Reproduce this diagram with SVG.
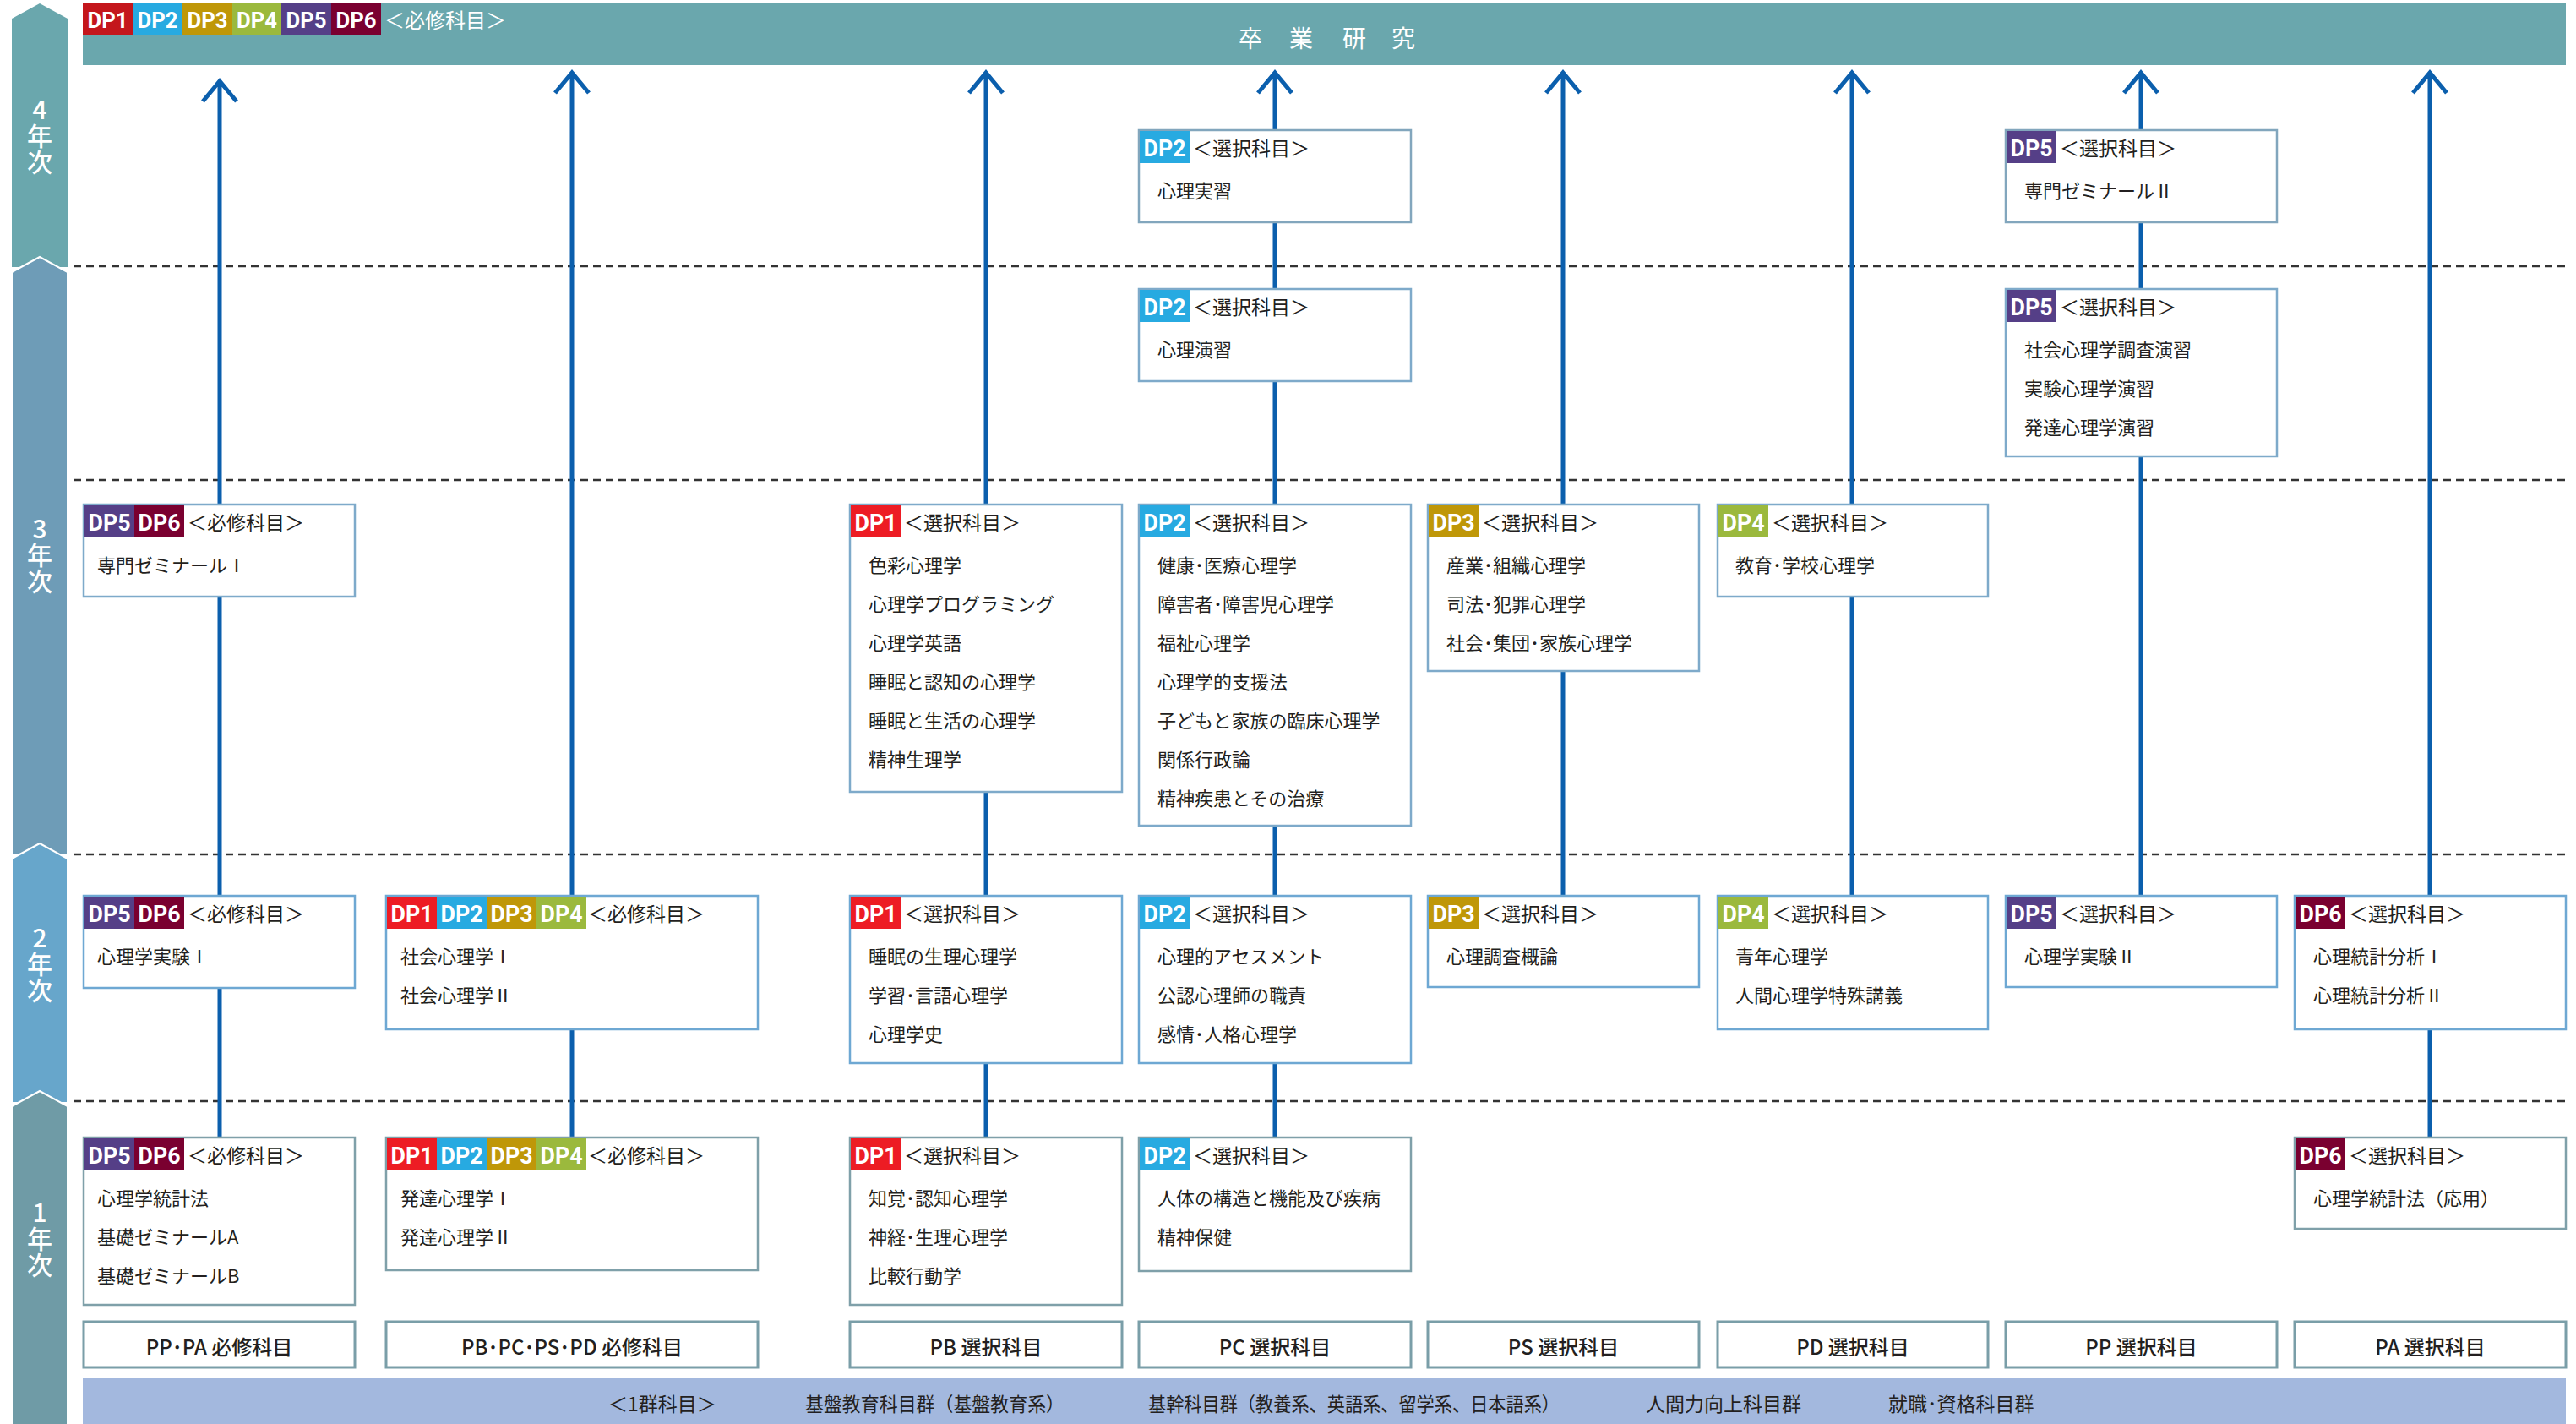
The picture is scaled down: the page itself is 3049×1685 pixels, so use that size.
<svg xmlns="http://www.w3.org/2000/svg" width="3049" height="1685" viewBox="0 0 3049 1685">
<style>
.box{fill:#fff;stroke-width:2.5}
.s4{stroke:#82a6bd}.s3{stroke:#7eaaca}.s2{stroke:#6ea8d3}.s1{stroke:#7fa0a9}
.dp{font-family:Roboto,'Liberation Sans',sans-serif;font-weight:700;font-size:28px;fill:#fff;text-anchor:middle}
.hd{font-family:'Noto Sans CJK JP',sans-serif;font-size:23px;fill:#231f20}
.it{font-family:'Noto Sans CJK JP',sans-serif;font-size:22px;fill:#231f20}
.lbl{fill:#fff;stroke:#7a9ea8;stroke-width:3}
.lt{font-family:'Noto Sans CJK JP',sans-serif;font-size:24px;fill:#231f20;text-anchor:middle;font-weight:500}
.bt{font-family:'Noto Sans CJK JP',sans-serif;font-size:23px;fill:#231f20}
.conn{stroke:#0b5fad;stroke-width:5;fill:none;stroke-linejoin:miter}
.dash{stroke:#333;stroke-width:2.5;stroke-dasharray:9 6;fill:none}
.yr{font-family:'Noto Sans CJK JP',sans-serif;font-size:30px;fill:#fff;font-weight:500;writing-mode:vertical-rl;text-orientation:upright;letter-spacing:1px}
.wt{font-family:'Noto Sans CJK JP',sans-serif;fill:#fff}
.c1{fill:#ed1c24}.c2{fill:#27aae1}.c3{fill:#bf9708}.c4{fill:#9bb93d}.c5{fill:#553f87}.c6{fill:#7a0030}
</style>

<g id="year-bar">
<polygon points="14,22 47,4 80,22 80,316 14,316" fill="#6aa7ad"/>
<polygon points="14,322 47,304 80,322 80,1012 14,1012" fill="#6e9cb7" stroke="#fff" stroke-width="2"/>
<polygon points="14,1016 47,998 80,1016 80,1305 14,1305" fill="#67a6cb" stroke="#fff" stroke-width="2"/>
<polygon points="14,1309 47,1291 80,1309 80,1690 14,1690" fill="#6f9ba6" stroke="#fff" stroke-width="2"/>
<text class="yr" x="47" y="115">4年次</text>
<text class="yr" x="47" y="611">3年次</text>
<text class="yr" x="47" y="1095">2年次</text>
<text class="yr" x="47" y="1420">1年次</text>
</g>

<g id="dashed-lines">
<line class="dash" x1="87" y1="315" x2="3040" y2="315"/>
<line class="dash" x1="87" y1="568" x2="3040" y2="568" stroke="#555" stroke-width="2"/>
<line class="dash" x1="87" y1="1011" x2="3040" y2="1011"/>
<line class="dash" x1="87" y1="1303" x2="3040" y2="1303"/>
</g>

<g id="graduation-research">
<rect x="98" y="4" width="2939" height="73" fill="#6aa7ad"/>
<rect x="98" y="4" width="59" height="38" fill="#c4161c"/>
<rect x="157" y="4" width="59" height="38" class="c2"/>
<rect x="216" y="4" width="59" height="38" class="c3"/>
<rect x="275" y="4" width="58" height="38" class="c4"/>
<rect x="333" y="4" width="59" height="38" class="c5"/>
<rect x="392" y="4" width="59" height="38" class="c6"/>
<text class="dp" style="font-size:26px" x="127.5" y="33" textLength="48" lengthAdjust="spacingAndGlyphs">DP1</text>
<text class="dp" style="font-size:26px" x="186.5" y="33" textLength="48" lengthAdjust="spacingAndGlyphs">DP2</text>
<text class="dp" style="font-size:26px" x="245.5" y="33" textLength="48" lengthAdjust="spacingAndGlyphs">DP3</text>
<text class="dp" style="font-size:26px" x="304" y="33" textLength="48" lengthAdjust="spacingAndGlyphs">DP4</text>
<text class="dp" style="font-size:26px" x="362.5" y="33" textLength="48" lengthAdjust="spacingAndGlyphs">DP5</text>
<text class="dp" style="font-size:26px" x="421.5" y="33" textLength="48" lengthAdjust="spacingAndGlyphs">DP6</text>
<text class="wt" x="455" y="33" font-size="24">＜必修科目＞</text>
<text class="wt" font-size="28" text-anchor="middle" y="56"><tspan x="1480">卒</tspan><tspan x="1540">業</tspan><tspan x="1603">研</tspan><tspan x="1661">究</tspan></text>
</g>

<g id="connectors">
<path class="conn" d="M260,1346 V97 M240,120 L260,96 L280,120"/>
<path class="conn" d="M677,1346 V87 M657,110 L677,86 L697,110"/>
<path class="conn" d="M1167,1346 V87 M1147,110 L1167,86 L1187,110"/>
<path class="conn" d="M1509,1346 V87 M1489,110 L1509,86 L1529,110"/>
<path class="conn" d="M1850,1060 V87 M1830,110 L1850,86 L1870,110"/>
<path class="conn" d="M2192,1060 V87 M2172,110 L2192,86 L2212,110"/>
<path class="conn" d="M2534,1060 V87 M2514,110 L2534,86 L2554,110"/>
<path class="conn" d="M2876,1346 V87 M2856,110 L2876,86 L2896,110"/>
</g>

<!-- 4年次 -->
<g id="y4-pc-jisshu">
<rect class="box s4" x="1348" y="154" width="322" height="109"/>
<rect class="c2" x="1349" y="155" width="59" height="38"/>
<text class="dp" x="1378.5" y="185" textLength="50" lengthAdjust="spacingAndGlyphs">DP2</text>
<text class="hd" x="1412" y="184">＜選択科目＞</text>
<text class="it" x="1370" y="234">心理実習</text>
</g>
<g id="y4-pp-seminar2">
<rect class="box s4" x="2374" y="154" width="321" height="109"/>
<rect class="c5" x="2375" y="155" width="59" height="38"/>
<text class="dp" x="2404.5" y="185" textLength="50" lengthAdjust="spacingAndGlyphs">DP5</text>
<text class="hd" x="2438" y="184">＜選択科目＞</text>
<text class="it" x="2396" y="234">専門ゼミナールⅡ</text>
</g>

<!-- 3年次 upper -->
<g id="y3-pc-enshu">
<rect class="box s3" x="1348" y="342" width="322" height="109"/>
<rect class="c2" x="1349" y="343" width="59" height="38"/>
<text class="dp" x="1378.5" y="373" textLength="50" lengthAdjust="spacingAndGlyphs">DP2</text>
<text class="hd" x="1412" y="372">＜選択科目＞</text>
<text class="it" x="1370" y="422">心理演習</text>
</g>
<g id="y3-pp-enshu">
<rect class="box s3" x="2374" y="342" width="321" height="198"/>
<rect class="c5" x="2375" y="343" width="59" height="38"/>
<text class="dp" x="2404.5" y="373" textLength="50" lengthAdjust="spacingAndGlyphs">DP5</text>
<text class="hd" x="2438" y="372">＜選択科目＞</text>
<text class="it" x="2396" y="422">社会心理学調査演習</text>
<text class="it" x="2396" y="468">実験心理学演習</text>
<text class="it" x="2396" y="514">発達心理学演習</text>
</g>

<!-- 3年次 -->
<g id="y3-req-seminar1">
<rect class="box s3" x="99" y="597" width="321" height="109"/>
<rect class="c5" x="100" y="598" width="59" height="38"/>
<rect class="c6" x="159" y="598" width="59" height="38"/>
<text class="dp" x="129.5" y="628" textLength="50" lengthAdjust="spacingAndGlyphs">DP5</text>
<text class="dp" x="188.5" y="628" textLength="50" lengthAdjust="spacingAndGlyphs">DP6</text>
<text class="hd" x="222" y="627">＜必修科目＞</text>
<text class="it" x="115" y="677">専門ゼミナールⅠ</text>
</g>
<g id="y3-pb">
<rect class="box s3" x="1006" y="597" width="322" height="340"/>
<rect class="c1" x="1007" y="598" width="59" height="38"/>
<text class="dp" x="1036.5" y="628" textLength="50" lengthAdjust="spacingAndGlyphs">DP1</text>
<text class="hd" x="1070" y="627">＜選択科目＞</text>
<text class="it" x="1028" y="677">色彩心理学</text>
<text class="it" x="1028" y="723">心理学プログラミング</text>
<text class="it" x="1028" y="769">心理学英語</text>
<text class="it" x="1028" y="815">睡眠と認知の心理学</text>
<text class="it" x="1028" y="861">睡眠と生活の心理学</text>
<text class="it" x="1028" y="907">精神生理学</text>
</g>
<g id="y3-pc">
<rect class="box s3" x="1348" y="597" width="322" height="380"/>
<rect class="c2" x="1349" y="598" width="59" height="38"/>
<text class="dp" x="1378.5" y="628" textLength="50" lengthAdjust="spacingAndGlyphs">DP2</text>
<text class="hd" x="1412" y="627">＜選択科目＞</text>
<text class="it" x="1370" y="677">健康･医療心理学</text>
<text class="it" x="1370" y="723">障害者･障害児心理学</text>
<text class="it" x="1370" y="769">福祉心理学</text>
<text class="it" x="1370" y="815">心理学的支援法</text>
<text class="it" x="1370" y="861">子どもと家族の臨床心理学</text>
<text class="it" x="1370" y="907">関係行政論</text>
<text class="it" x="1370" y="953">精神疾患とその治療</text>
</g>
<g id="y3-ps">
<rect class="box s3" x="1690" y="597" width="321" height="197"/>
<rect class="c3" x="1691" y="598" width="59" height="38"/>
<text class="dp" x="1720.5" y="628" textLength="50" lengthAdjust="spacingAndGlyphs">DP3</text>
<text class="hd" x="1754" y="627">＜選択科目＞</text>
<text class="it" x="1712" y="677">産業･組織心理学</text>
<text class="it" x="1712" y="723">司法･犯罪心理学</text>
<text class="it" x="1712" y="769">社会･集団･家族心理学</text>
</g>
<g id="y3-pd">
<rect class="box s3" x="2033" y="597" width="320" height="109"/>
<rect class="c4" x="2034" y="598" width="59" height="38"/>
<text class="dp" x="2063.5" y="628" textLength="50" lengthAdjust="spacingAndGlyphs">DP4</text>
<text class="hd" x="2097" y="627">＜選択科目＞</text>
<text class="it" x="2054" y="677">教育･学校心理学</text>
</g>

<!-- 2年次 -->
<g id="y2-req-exp1">
<rect class="box s2" x="99" y="1060" width="321" height="109"/>
<rect class="c5" x="100" y="1061" width="59" height="38"/>
<rect class="c6" x="159" y="1061" width="59" height="38"/>
<text class="dp" x="129.5" y="1091" textLength="50" lengthAdjust="spacingAndGlyphs">DP5</text>
<text class="dp" x="188.5" y="1091" textLength="50" lengthAdjust="spacingAndGlyphs">DP6</text>
<text class="hd" x="222" y="1090">＜必修科目＞</text>
<text class="it" x="115" y="1140">心理学実験Ⅰ</text>
</g>
<g id="y2-req-social">
<rect class="box s2" x="457" y="1060" width="440" height="158"/>
<rect class="c1" x="458" y="1061" width="59" height="38"/>
<rect class="c2" x="517" y="1061" width="59" height="38"/>
<rect class="c3" x="576" y="1061" width="59" height="38"/>
<rect class="c4" x="635" y="1061" width="59" height="38"/>
<text class="dp" x="487.5" y="1091" textLength="50" lengthAdjust="spacingAndGlyphs">DP1</text>
<text class="dp" x="546.5" y="1091" textLength="50" lengthAdjust="spacingAndGlyphs">DP2</text>
<text class="dp" x="605.5" y="1091" textLength="50" lengthAdjust="spacingAndGlyphs">DP3</text>
<text class="dp" x="664.5" y="1091" textLength="50" lengthAdjust="spacingAndGlyphs">DP4</text>
<text class="hd" x="696" y="1090">＜必修科目＞</text>
<text class="it" x="474" y="1140">社会心理学Ⅰ</text>
<text class="it" x="474" y="1186">社会心理学Ⅱ</text>
</g>
<g id="y2-pb">
<rect class="box s2" x="1006" y="1060" width="322" height="198"/>
<rect class="c1" x="1007" y="1061" width="59" height="38"/>
<text class="dp" x="1036.5" y="1091" textLength="50" lengthAdjust="spacingAndGlyphs">DP1</text>
<text class="hd" x="1070" y="1090">＜選択科目＞</text>
<text class="it" x="1028" y="1140">睡眠の生理心理学</text>
<text class="it" x="1028" y="1186">学習･言語心理学</text>
<text class="it" x="1028" y="1232">心理学史</text>
</g>
<g id="y2-pc">
<rect class="box s2" x="1348" y="1060" width="322" height="198"/>
<rect class="c2" x="1349" y="1061" width="59" height="38"/>
<text class="dp" x="1378.5" y="1091" textLength="50" lengthAdjust="spacingAndGlyphs">DP2</text>
<text class="hd" x="1412" y="1090">＜選択科目＞</text>
<text class="it" x="1370" y="1140">心理的アセスメント</text>
<text class="it" x="1370" y="1186">公認心理師の職責</text>
<text class="it" x="1370" y="1232">感情･人格心理学</text>
</g>
<g id="y2-ps">
<rect class="box s2" x="1690" y="1060" width="321" height="108"/>
<rect class="c3" x="1691" y="1061" width="59" height="38"/>
<text class="dp" x="1720.5" y="1091" textLength="50" lengthAdjust="spacingAndGlyphs">DP3</text>
<text class="hd" x="1754" y="1090">＜選択科目＞</text>
<text class="it" x="1712" y="1140">心理調査概論</text>
</g>
<g id="y2-pd">
<rect class="box s2" x="2033" y="1060" width="320" height="158"/>
<rect class="c4" x="2034" y="1061" width="59" height="38"/>
<text class="dp" x="2063.5" y="1091" textLength="50" lengthAdjust="spacingAndGlyphs">DP4</text>
<text class="hd" x="2097" y="1090">＜選択科目＞</text>
<text class="it" x="2054" y="1140">青年心理学</text>
<text class="it" x="2054" y="1186">人間心理学特殊講義</text>
</g>
<g id="y2-pp">
<rect class="box s2" x="2374" y="1060" width="321" height="108"/>
<rect class="c5" x="2375" y="1061" width="59" height="38"/>
<text class="dp" x="2404.5" y="1091" textLength="50" lengthAdjust="spacingAndGlyphs">DP5</text>
<text class="hd" x="2438" y="1090">＜選択科目＞</text>
<text class="it" x="2396" y="1140">心理学実験Ⅱ</text>
</g>
<g id="y2-pa">
<rect class="box s2" x="2716" y="1060" width="321" height="158"/>
<rect class="c6" x="2717" y="1061" width="59" height="38"/>
<text class="dp" x="2746.5" y="1091" textLength="50" lengthAdjust="spacingAndGlyphs">DP6</text>
<text class="hd" x="2780" y="1090">＜選択科目＞</text>
<text class="it" x="2738" y="1140">心理統計分析Ⅰ</text>
<text class="it" x="2738" y="1186">心理統計分析Ⅱ</text>
</g>

<!-- 1年次 -->
<g id="y1-req-stat">
<rect class="box s1" x="99" y="1346" width="321" height="198"/>
<rect class="c5" x="100" y="1347" width="59" height="38"/>
<rect class="c6" x="159" y="1347" width="59" height="38"/>
<text class="dp" x="129.5" y="1377" textLength="50" lengthAdjust="spacingAndGlyphs">DP5</text>
<text class="dp" x="188.5" y="1377" textLength="50" lengthAdjust="spacingAndGlyphs">DP6</text>
<text class="hd" x="222" y="1376">＜必修科目＞</text>
<text class="it" x="115" y="1426">心理学統計法</text>
<text class="it" x="115" y="1472">基礎ゼミナールA</text>
<text class="it" x="115" y="1518">基礎ゼミナールB</text>
</g>
<g id="y1-req-dev">
<rect class="box s1" x="457" y="1346" width="440" height="157"/>
<rect class="c1" x="458" y="1347" width="59" height="38"/>
<rect class="c2" x="517" y="1347" width="59" height="38"/>
<rect class="c3" x="576" y="1347" width="59" height="38"/>
<rect class="c4" x="635" y="1347" width="59" height="38"/>
<text class="dp" x="487.5" y="1377" textLength="50" lengthAdjust="spacingAndGlyphs">DP1</text>
<text class="dp" x="546.5" y="1377" textLength="50" lengthAdjust="spacingAndGlyphs">DP2</text>
<text class="dp" x="605.5" y="1377" textLength="50" lengthAdjust="spacingAndGlyphs">DP3</text>
<text class="dp" x="664.5" y="1377" textLength="50" lengthAdjust="spacingAndGlyphs">DP4</text>
<text class="hd" x="696" y="1376">＜必修科目＞</text>
<text class="it" x="474" y="1426">発達心理学Ⅰ</text>
<text class="it" x="474" y="1472">発達心理学Ⅱ</text>
</g>
<g id="y1-pb">
<rect class="box s1" x="1006" y="1346" width="322" height="198"/>
<rect class="c1" x="1007" y="1347" width="59" height="38"/>
<text class="dp" x="1036.5" y="1377" textLength="50" lengthAdjust="spacingAndGlyphs">DP1</text>
<text class="hd" x="1070" y="1376">＜選択科目＞</text>
<text class="it" x="1028" y="1426">知覚･認知心理学</text>
<text class="it" x="1028" y="1472">神経･生理心理学</text>
<text class="it" x="1028" y="1518">比較行動学</text>
</g>
<g id="y1-pc">
<rect class="box s1" x="1348" y="1346" width="322" height="158"/>
<rect class="c2" x="1349" y="1347" width="59" height="38"/>
<text class="dp" x="1378.5" y="1377" textLength="50" lengthAdjust="spacingAndGlyphs">DP2</text>
<text class="hd" x="1412" y="1376">＜選択科目＞</text>
<text class="it" x="1370" y="1426">人体の構造と機能及び疾病</text>
<text class="it" x="1370" y="1472">精神保健</text>
</g>
<g id="y1-pa">
<rect class="box s1" x="2716" y="1346" width="321" height="108"/>
<rect class="c6" x="2717" y="1347" width="59" height="38"/>
<text class="dp" x="2746.5" y="1377" textLength="50" lengthAdjust="spacingAndGlyphs">DP6</text>
<text class="hd" x="2780" y="1376">＜選択科目＞</text>
<text class="it" x="2738" y="1426">心理学統計法（応用）</text>
</g>

<!-- bottom labels -->
<g id="label-pp-pa-req"><rect class="lbl" x="99" y="1564" width="321" height="54"/><text class="lt" x="259.5" y="1603">PP･PA 必修科目</text></g>
<g id="label-pb-pc-ps-pd-req"><rect class="lbl" x="457" y="1564" width="440" height="54"/><text class="lt" x="677" y="1603">PB･PC･PS･PD 必修科目</text></g>
<g id="label-pb"><rect class="lbl" x="1006" y="1564" width="322" height="54"/><text class="lt" x="1167" y="1603">PB 選択科目</text></g>
<g id="label-pc"><rect class="lbl" x="1348" y="1564" width="322" height="54"/><text class="lt" x="1509" y="1603">PC 選択科目</text></g>
<g id="label-ps"><rect class="lbl" x="1690" y="1564" width="321" height="54"/><text class="lt" x="1850.5" y="1603">PS 選択科目</text></g>
<g id="label-pd"><rect class="lbl" x="2033" y="1564" width="320" height="54"/><text class="lt" x="2193" y="1603">PD 選択科目</text></g>
<g id="label-pp"><rect class="lbl" x="2374" y="1564" width="321" height="54"/><text class="lt" x="2534.5" y="1603">PP 選択科目</text></g>
<g id="label-pa"><rect class="lbl" x="2716" y="1564" width="321" height="54"/><text class="lt" x="2876.5" y="1603">PA 選択科目</text></g>

<g id="group1-band">
<rect x="98" y="1630" width="2939" height="55" fill="#a3b8de"/>
<text class="bt" x="720" y="1670">＜1群科目＞</text>
<text class="bt" x="953" y="1670" textLength="307" lengthAdjust="spacingAndGlyphs">基盤教育科目群（基盤教育系）</text>
<text class="bt" x="1359" y="1670" textLength="487" lengthAdjust="spacingAndGlyphs">基幹科目群（教養系、英語系、留学系、日本語系）</text>
<text class="bt" x="1948" y="1670">人間力向上科目群</text>
<text class="bt" x="2235" y="1670">就職･資格科目群</text>
</g>
</svg>
